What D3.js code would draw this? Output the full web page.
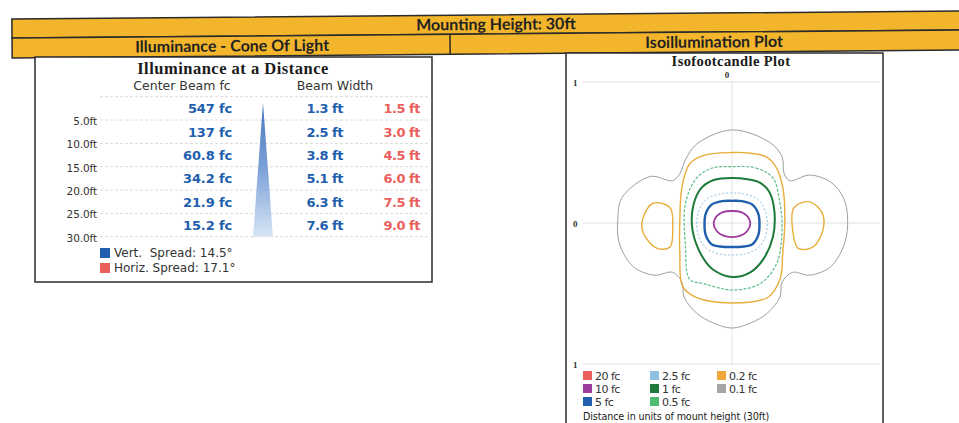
<!DOCTYPE html>
<html><head><meta charset="utf-8">
<script src="https://cdn.jsdelivr.net/npm/d3@7"></script>
<style>body{margin:0;background:#fff}svg{display:block}</style>
</head><body>
<svg id="c" width="959" height="423"></svg>
<script>
// ---------- data ----------
const headerTitle = "Mounting Height: 30ft";
const panelTitles = ["Illuminance - Cone Of Light", "Isoillumination Plot"];
const leftTitle = "Illuminance at a Distance";
const colHeads = ["Center Beam fc", "Beam Width"];
const distances = [5, 10, 15, 20, 25, 30];
const distanceLabels = ["5.0ft", "10.0ft", "15.0ft", "20.0ft", "25.0ft", "30.0ft"];
const centerBeamFc = ["547", "137", "60.8", "34.2", "21.9", "15.2"];
const vertWidthFt = [1.3, 2.5, 3.8, 5.1, 6.3, 7.6];
const horizWidthFt = [1.5, 3.0, 4.5, 6.0, 7.5, 9.0];
const spreadLabels = ["Vert.  Spread: 14.5°", "Horiz. Spread: 17.1°"];
const spreadColors = ["#1f5fae", "#ea5f5c"];

const plotTitle = "Isofootcandle Plot";
const plotNote = "Distance in units of mount height (30ft)";
const isoLevels = ["20 fc", "10 fc", "5 fc", "2.5 fc", "1 fc", "0.5 fc", "0.2 fc", "0.1 fc"];
const isoColors = ["#ea5f5c", "#9c3c9c", "#1f5fae", "#8fc1e3", "#1d7a3b", "#4dbb72", "#f2a53a", "#a5a5a5"];
const yTicks = [1, 0, -1];
const xTicks = [0];

// contour outlines, in units of mount height (x right, y up)
const iso10 = [[0.13,0],[0.11,0.047],[0.065,0.077],[0,0.085],[-0.065,0.077],[-0.11,0.047],[-0.13,0],[-0.11,-0.055],[-0.065,-0.088],[0,-0.10],[0.065,-0.088],[0.11,-0.055]];
const iso5 = [[0.195,-0.01],[0.185,0.07],[0.145,0.13],[0.07,0.155],[0,0.157],[-0.07,0.155],[-0.145,0.13],[-0.185,0.07],[-0.195,-0.01],[-0.185,-0.09],[-0.145,-0.15],[-0.07,-0.168],[0,-0.17],[0.07,-0.168],[0.145,-0.15],[0.185,-0.09]];
const iso2_5 = [[0.25,0],[0.235,0.09],[0.18,0.17],[0.09,0.205],[0,0.213],[-0.09,0.205],[-0.18,0.17],[-0.235,0.09],[-0.25,0],[-0.235,-0.10],[-0.18,-0.18],[-0.09,-0.22],[0,-0.227],[0.09,-0.22],[0.18,-0.18],[0.235,-0.10]];
const iso1 = [[0,0.32],[0.11,0.31],[0.20,0.285],[0.265,0.22],[0.30,0.09],[0.29,-0.10],[0.22,-0.26],[0.13,-0.35],[0,-0.383],[-0.135,-0.33],[-0.21,-0.24],[-0.28,-0.05],[-0.275,0.12],[-0.22,0.245],[-0.13,0.305]];
const iso0_5 = [[0,0.40],[0.17,0.39],[0.29,0.32],[0.34,0.14],[0.355,-0.03],[0.32,-0.28],[0.20,-0.43],[0,-0.475],[-0.20,-0.43],[-0.30,-0.40],[-0.33,-0.17],[-0.33,0.14],[-0.25,0.32],[-0.14,0.39]];
const iso0_2c = [[0,0.50],[0.13,0.495],[0.24,0.47],[0.31,0.40],[0.36,0.255],[0.375,0.02],[0.36,-0.21],[0.34,-0.40],[0.25,-0.53],[0,-0.567],[-0.25,-0.53],[-0.35,-0.45],[-0.37,-0.21],[-0.37,0.02],[-0.355,0.255],[-0.30,0.42],[-0.20,0.48]];
const iso0_2l = [[-0.56,0.14],[-0.63,0.04],[-0.63,-0.07],[-0.53,-0.18],[-0.44,-0.17],[-0.42,-0.03],[-0.44,0.11]];
const iso0_2r = [[0.44,0.11],[0.55,0.15],[0.64,0.07],[0.645,-0.05],[0.575,-0.17],[0.47,-0.18],[0.43,-0.05]];
const iso0_1 = [[0,0.66],[0.27,0.57],[0.355,0.47],[0.37,0.35],[0.41,0.30],[0.55,0.34],[0.70,0.29],[0.79,0.18],[0.82,0.035],[0.80,-0.14],[0.70,-0.31],[0.55,-0.37],[0.43,-0.35],[0.355,-0.42],[0.34,-0.525],[0.25,-0.64],[0.13,-0.71],[0,-0.745],[-0.13,-0.71],[-0.25,-0.64],[-0.34,-0.525],[-0.355,-0.42],[-0.42,-0.35],[-0.55,-0.37],[-0.70,-0.31],[-0.80,-0.14],[-0.81,0.02],[-0.78,0.18],[-0.58,0.33],[-0.42,0.30],[-0.37,0.35],[-0.33,0.45],[-0.25,0.56]];

// ---------- drawing ----------
const svg = d3.select("#c");
const defs = svg.append("defs");
const grad = defs.append("linearGradient").attr("id","cone").attr("x1",0).attr("y1",0).attr("x2",0).attr("y2",1);
grad.append("stop").attr("offset","0%").attr("stop-color","#3567b8");
grad.append("stop").attr("offset","50%").attr("stop-color","#6f98d4");
grad.append("stop").attr("offset","100%").attr("stop-color","#d3e2f4");

// header bars (scan is slightly tilted)
const hdr = svg.append("g").attr("transform","rotate(-0.48,480,35)");
hdr.append("rect").attr("x",12).attr("y",15).attr("width",970).attr("height",19)
  .attr("fill","#f2b52b").attr("stroke","#2b2b2b").attr("stroke-width",1.5);
hdr.append("rect").attr("x",12).attr("y",34).attr("width",970).attr("height",20)
  .attr("fill","#f2b52b").attr("stroke","#2b2b2b").attr("stroke-width",1.5);
hdr.append("line").attr("x1",450).attr("x2",450).attr("y1",34).attr("y2",54).attr("stroke","#2b2b2b").attr("stroke-width",1.5);
const hfont = s => s.attr("text-anchor","middle").attr("font-family","Lato").attr("font-weight","bold").attr("font-size",16).attr("fill","#222");
hdr.append("text").attr("x",496).attr("y",30).call(hfont).text(headerTitle);
hdr.append("text").attr("x",232).attr("y",49.5).call(hfont).text(panelTitles[0]);
hdr.append("text").attr("x",714).attr("y",49.5).call(hfont).text(panelTitles[1]);

// ---------- left panel ----------
const L = svg.append("g");
L.append("rect").attr("x",35).attr("y",57).attr("width",397).attr("height",225)
  .attr("fill","#fff").attr("stroke","#2b2b2b").attr("stroke-width",1.5);
L.append("text").attr("x",233).attr("y",74).attr("text-anchor","middle")
  .attr("font-family","Liberation Serif").attr("font-weight","bold").attr("font-size",16.5).attr("letter-spacing",0.5)
  .attr("fill","#1a1a1a").text(leftTitle);
L.append("text").attr("x",182).attr("y",90).attr("text-anchor","middle")
  .attr("font-family","DejaVu Sans").attr("font-size",12.5).attr("fill","#333").text(colHeads[0]);
L.append("text").attr("x",335).attr("y",90).attr("text-anchor","middle")
  .attr("font-family","DejaVu Sans").attr("font-size",12.5).attr("fill","#333").text(colHeads[1]);

const yL = d3.scaleLinear().domain([0, 30]).range([96.7, 236.7]);
const gridD = [0].concat(distances);
L.selectAll("line.g").data(gridD).join("line").attr("class","g")
  .attr("x1",100).attr("x2",428).attr("y1",d=>yL(d)).attr("y2",d=>yL(d))
  .attr("stroke","#d2d2d2").attr("stroke-width",0.8).attr("stroke-dasharray","3,2");
L.selectAll("text.tk").data(distances).join("text").attr("class","tk")
  .attr("x",97).attr("y",d=>yL(d)+5).attr("text-anchor","end")
  .attr("font-family","DejaVu Sans").attr("font-size",10.5).attr("letter-spacing",-0.1).attr("fill","#333")
  .text((d,i)=>distanceLabels[i]);

// cone of light
const coneW = d3.scaleLinear().domain([0, 8]).range([0, 21]);
const conePts = [{d:0,w:0}].concat(distances.map((d,i)=>({d:d,w:vertWidthFt[i]})));
const cx = 263;
L.append("path").datum(conePts)
  .attr("d", d3.area().y(p=>yL(p.d)+6*(1-p.d/30)).x0(p=>cx-coneW(p.w)/2).x1(p=>cx+coneW(p.w)/2))
  .attr("fill","url(#cone)").attr("opacity",0.9);

const valFont = s => s.attr("font-family","DejaVu Sans").attr("font-weight","bold").attr("font-size",13).attr("letter-spacing",-0.15);
L.selectAll("text.fc").data(distances).join("text").attr("class","fc")
  .attr("x",232).attr("y",d=>yL(d-2.5)+5).attr("text-anchor","end").attr("fill","#1f5fae")
  .call(valFont).text((d,i)=>centerBeamFc[i]+" fc");
L.selectAll("text.vw").data(distances).join("text").attr("class","vw")
  .attr("x",343).attr("y",d=>yL(d-2.5)+5).attr("text-anchor","end").attr("fill","#1f5fae")
  .call(valFont).attr("letter-spacing",-0.5).text((d,i)=>vertWidthFt[i].toFixed(1)+" ft");
L.selectAll("text.hw").data(distances).join("text").attr("class","hw")
  .attr("x",420).attr("y",d=>yL(d-2.5)+5).attr("text-anchor","end").attr("fill","#ea5f5c")
  .call(valFont).attr("letter-spacing",-0.5).text((d,i)=>horizWidthFt[i].toFixed(1)+" ft");

// spread legend
spreadLabels.forEach((t,i)=>{
  L.append("rect").attr("x",100).attr("y",248+i*15).attr("width",10).attr("height",10).attr("fill",spreadColors[i]);
  L.append("text").attr("x",114).attr("y",257+i*15).attr("xml:space","preserve").style("white-space","pre")
    .attr("font-family","DejaVu Sans").attr("font-size",12).attr("fill","#333").text(t);
});

// ---------- right panel ----------
const R = svg.append("g");
R.append("rect").attr("x",566).attr("y",53).attr("width",317).attr("height",400)
  .attr("fill","#fff").attr("stroke","#2b2b2b").attr("stroke-width",1.5);
R.append("text").attr("x",731).attr("y",66).attr("text-anchor","middle")
  .attr("font-family","Liberation Serif").attr("font-weight","bold").attr("font-size",14.5).attr("letter-spacing",0.4)
  .attr("fill","#1a1a1a").text(plotTitle);

const x = d3.scaleLinear().domain([-1, 1]).range([591, 873]);
const y = d3.scaleLinear().domain([-1, 1]).range([364, 82]);
// grid
R.selectAll("line.hy").data(yTicks).join("line").attr("class","hy")
  .attr("x1",583).attr("x2",880).attr("y1",d=>y(d)).attr("y2",d=>y(d))
  .attr("stroke","#d9d9d9").attr("stroke-width",0.8);
R.selectAll("line.vx").data(xTicks).join("line").attr("class","vx")
  .attr("x1",d=>x(d)).attr("x2",d=>x(d)).attr("y1",y(1)).attr("y2",y(-1))
  .attr("stroke","#dcdcdc").attr("stroke-width",0.8);
R.selectAll("text.yl").data(yTicks).join("text").attr("class","yl")
  .attr("x",573).attr("y",d=>y(d)+4).attr("font-family","Liberation Serif").attr("font-weight","bold")
  .attr("font-size",9).attr("fill","#333").text(d=>Math.abs(d));
R.selectAll("text.xl").data(xTicks).join("text").attr("class","xl")
  .attr("x",d=>x(d)-5).attr("y",78).attr("text-anchor","middle").attr("font-family","Liberation Serif").attr("font-weight","bold")
  .attr("font-size",9).attr("fill","#333").text(d=>d);

const line = d3.line().x(p=>x(p[0])).y(p=>y(p[1])).curve(d3.curveCatmullRomClosed.alpha(0.5));
const contours = [
  {pts: iso0_1, c: "#9e9e9e", w: 1.0, dash: null},
  {pts: iso0_2c, c: "#e8ad3a", w: 1.4, dash: null},
  {pts: iso0_2l, c: "#e8ad3a", w: 1.4, dash: null},
  {pts: iso0_2r, c: "#e8ad3a", w: 1.4, dash: null},
  {pts: iso0_5, c: "#5cbf8a", w: 1.2, dash: "3,1.5"},
  {pts: iso1, c: isoColors[4], w: 2.0, dash: null},
  {pts: iso2_5, c: isoColors[3], w: 1.0, dash: "2,2"},
  {pts: iso5, c: isoColors[2], w: 2.4, dash: null},
  {pts: iso10, c: isoColors[1], w: 1.8, dash: null}
];
R.selectAll("path.iso").data(contours).join("path").attr("class","iso")
  .attr("d", d=>line(d.pts)).attr("fill","none").attr("stroke", d=>d.c)
  .attr("stroke-width", d=>d.w).attr("stroke-dasharray", d=>d.dash);

// legend
isoLevels.forEach((t,i)=>{
  const col = Math.floor(i/3), row = i%3;
  const lx = 583 + col*67, ly = 371 + row*13;
  R.append("rect").attr("x",lx).attr("y",ly).attr("width",9).attr("height",9).attr("fill",isoColors[i]);
  R.append("text").attr("x",lx+12).attr("y",ly+9).attr("font-family","DejaVu Sans").attr("font-size",11)
    .attr("letter-spacing",-0.5).attr("fill","#333").text(t);
});
R.append("text").attr("x",583).attr("y",420).attr("font-family","DejaVu Sans").attr("font-size",9.6)
  .attr("letter-spacing",-0.1).attr("fill","#222").text(plotNote);
</script>
</body></html>
